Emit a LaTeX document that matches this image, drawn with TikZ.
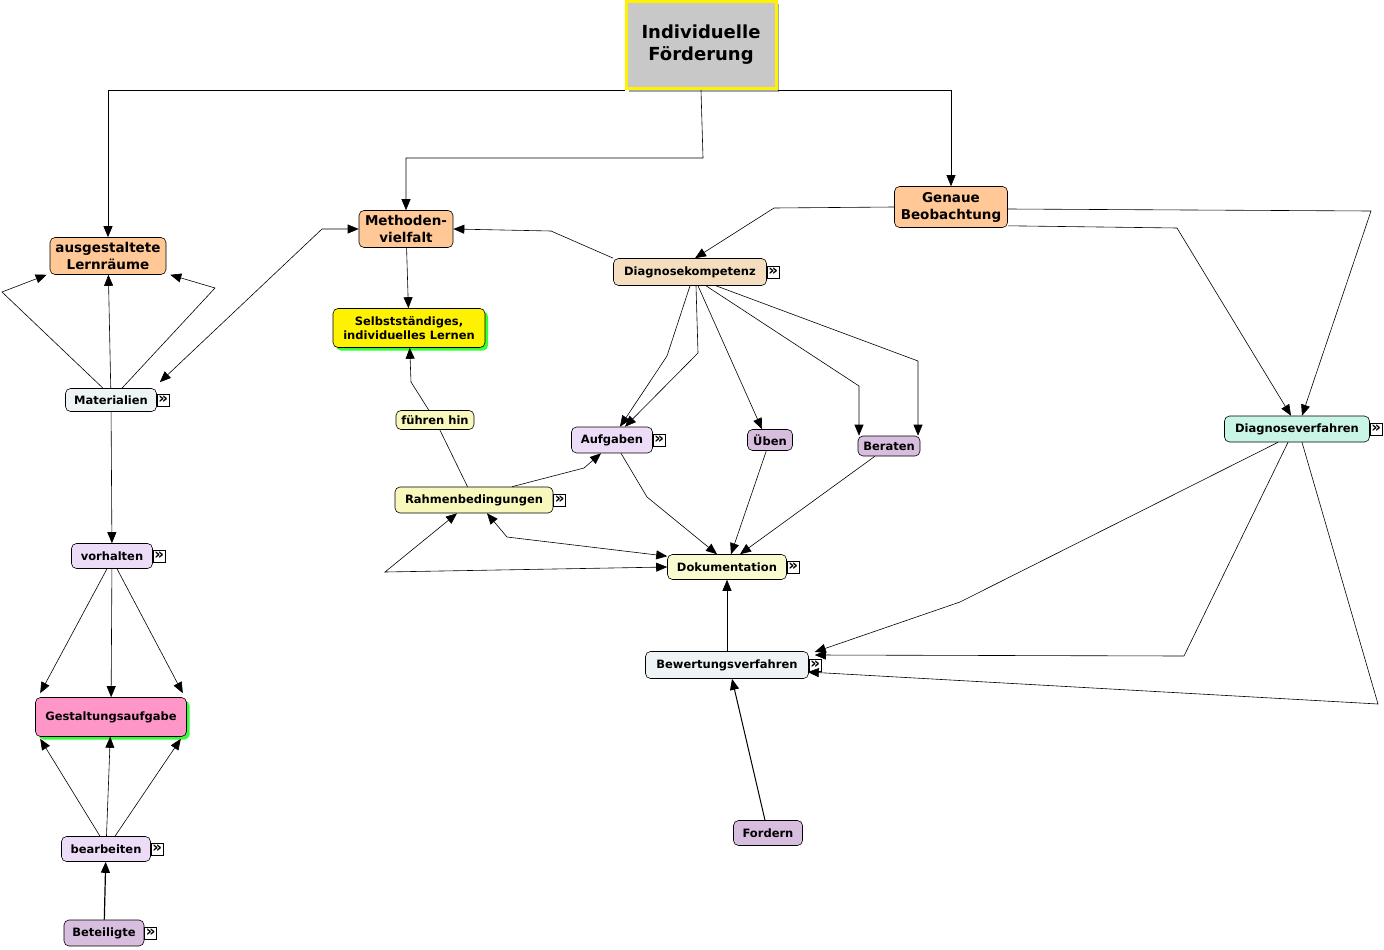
\documentclass[tikz,border=0pt]{standalone}
\usepackage{fontspec}
\setmainfont{DejaVu Sans}
\usetikzlibrary{arrows.meta,positioning,shadows}

\definecolor{peach}{RGB}{255,200,150}
\definecolor{topgray}{RGB}{200,200,200}
\definecolor{paleblue}{RGB}{238,244,246}
\definecolor{wheat}{RGB}{245,222,192}
\definecolor{paleyellow}{RGB}{248,248,188}
\definecolor{lavender}{RGB}{236,220,248}
\definecolor{mauve}{RGB}{216,190,222}
\definecolor{mint}{RGB}{200,245,230}
\definecolor{pinkish}{RGB}{255,150,200}
\definecolor{shadowgreen}{RGB}{51,255,51}

\tikzset{
  concept/.style={draw, rounded corners=5pt, align=center, inner sep=1pt,
    font=\bfseries\fontsize{11.5}{14}\selectfont},
  bigconcept/.style={concept, font=\bfseries\fontsize{13.5}{17}\selectfont},
  sz/.style 2 args={minimum width=#1pt, minimum height=#2pt},
  greenshadow/.style={drop shadow={shadow xshift=3pt, shadow yshift=-3pt,
    fill=shadowgreen, opacity=1}},
  moreicon/.style={draw, fill=white, inner sep=0pt, minimum size=12pt,
    font=\bfseries\fontsize{15}{15}\selectfont},
  arr/.style={-{Triangle[length=11pt,width=9pt]}},
  biarr/.style={{Triangle[length=11pt,width=9pt]}-{Triangle[length=11pt,width=9pt]}}
}

\begin{document}
\begin{tikzpicture}[x=1pt,y=-1pt,line width=0.6pt]
\useasboundingbox (0,0) rectangle (1384,950);

% main concept
\node[draw=yellow, line width=3pt, fill=topgray, align=center, sz={150}{87},
  drop shadow={shadow xshift=3pt, shadow yshift=-3pt, fill=gray!70, opacity=1},
  font=\bfseries\fontsize{18}{22}\selectfont] (top) at (701,45) {Individuelle\\Förderung};

% concepts
\node[bigconcept, fill=peach, sz={116}{37}] (lern) at (108,256) {ausgestaltete\\Lernräume};
\node[bigconcept, fill=peach, sz={94}{37}] (meth) at (406,229) {Methoden-\\vielfalt};
\node[bigconcept, fill=peach, sz={113}{41}] (gen) at (951,207) {Genaue\\Beobachtung};
\node[concept, fill=yellow, greenshadow, sz={152}{39}] (selb) at (409,328) {Selbstständiges,\\individuelles Lernen};
\node[concept, fill=paleblue, sz={91}{23}] (mat) at (111,400) {Materialien};
\node[concept, fill=wheat, sz={153}{27}] (diag) at (690,272) {Diagnosekompetenz};
\node[concept, fill=paleyellow, sz={78}{19}] (fuh) at (435,420) {führen hin};
\node[concept, fill=lavender, sz={81}{26}] (aufg) at (612,440) {Aufgaben};
\node[concept, fill=mauve, sz={45}{21}] (uben) at (770,440) {Üben};
\node[concept, fill=mauve, sz={62}{20}] (ber) at (889,446) {Beraten};
\node[concept, fill=mint, sz={145}{26}] (dv) at (1297,429) {Diagnoseverfahren};
\node[concept, fill=paleyellow, sz={158}{26}] (rahm) at (474,500) {Rahmenbedingungen};
\node[concept, fill=lavender, sz={81}{25}] (vor) at (112,556) {vorhalten};
\node[concept, fill=paleyellow!70!white, sz={119}{25}] (doku) at (727,567) {Dokumentation};
\node[concept, fill=paleblue, sz={163}{27}] (bew) at (727,665) {Bewertungsverfahren};
\node[concept, fill=pinkish, greenshadow, sz={151}{39}] (gest) at (111,717) {Gestaltungsaufgabe};
\node[concept, fill=lavender, sz={89}{25}] (bearb) at (106,849) {bearbeiten};
\node[concept, fill=mauve, sz={80}{26}] (bet) at (104,933) {Beteiligte};
\node[concept, fill=mauve, sz={69}{25}] (ford) at (768,833) {Fordern};

% link icons
\node[moreicon, right=0pt of mat] (mat-m) {»};
\node[moreicon, right=0pt of diag] (diag-m) {»};
\node[moreicon, right=0pt of aufg] (aufg-m) {»};
\node[moreicon, right=0pt of dv] (dv-m) {»};
\node[moreicon, right=0pt of rahm] (rahm-m) {»};
\node[moreicon, right=0pt of vor] (vor-m) {»};
\node[moreicon, right=0pt of doku] (doku-m) {»};
\node[moreicon, right=0pt of bew] (bew-m) {»};
\node[moreicon, right=0pt of bearb] (bearb-m) {»};
\node[moreicon, right=0pt of bet] (bet-m) {»};

% from the main concept
\draw[arr] (top.south west) -| (lern);
\draw[arr] (top.south) -- (703,158) -| (meth);
\draw[arr] (top.south east) -| (gen);

% Genaue Beobachtung
\draw[arr] (gen.west) -- (774,208) -- ([xshift=5pt]diag.north);
\draw[arr] ([yshift=-2pt]gen.east) -- (1371,211) -- ([xshift=5pt]dv.north);
\draw[arr] ([yshift=2pt]gen.south east) -- (1177,228) -- ([xshift=-6pt]dv.north);

% Methodenvielfalt
\draw[arr] (diag.north west) -- (551,231) -- (meth.east);
\draw[biarr] ([shift={(3pt,6pt)}]mat.north east) -- (322,229) -- (meth.west);
\draw[arr] (meth) -- (selb);
\draw (rahm) -- (fuh);
\draw[arr] (fuh) -- (411,382) -- (selb);

% Materialien
\draw[arr] ([xshift=-8pt]mat.north) -- (2,292) -- ([xshift=-3pt]lern.south west);
\draw[arr] (mat) -- (lern);
\draw[arr] ([xshift=11pt]mat.north) -- (215,288) -- ([xshift=4pt]lern.south east);
\draw[arr] (mat) -- (vor);

% vorhalten / bearbeiten
\draw[arr] ([xshift=-5pt]vor.south) -- ([shift={(5pt,4pt)}]gest.north west);
\draw[arr] (vor) -- (gest);
\draw[arr] ([xshift=5pt]vor.south) -- ([shift={(-4pt,4pt)}]gest.north east);
\draw[arr] ([xshift=-6pt]bearb.north) -- ([shift={(5pt,-2pt)}]gest.south west);
\draw[arr] (bearb) -- (gest);
\draw[arr] ([xshift=9pt]bearb.north) -- ([shift={(-6pt,-2pt)}]gest.south east);
\draw[arr, line width=1.2pt] (bet) -- (bearb);

% Diagnosekompetenz
\draw[arr] (diag.south) -- (667,356) -- ([xshift=8pt]aufg.north);
\draw[arr] ([xshift=6pt]diag.south) -- (698,353) -- ([xshift=13pt]aufg.north);
\draw[arr] ([xshift=8pt]diag.south) -- ([xshift=-8pt]uben.north);
\draw[arr] ([xshift=16pt]diag.south) -- (859,386) -- ([xshift=-30pt]ber.north);
\draw[arr] ([xshift=26pt]diag.south) -- (918,361) -- ([xshift=29pt]ber.north);

% Rahmenbedingungen
\draw[arr] ([xshift=38pt]rahm.north) -- (584,468) -- ([xshift=-11pt]aufg.south);
\draw[biarr] ([xshift=13pt]rahm.south) -- (507,537) -- ([yshift=-2pt]doku.north west);
\draw[biarr] ([xshift=-17pt]rahm.south) -- (385,572) -- (doku.west);

% Dokumentation
\draw[arr] ([xshift=9pt]aufg.south) -- (647,497) -- ([xshift=-10pt]doku.north);
\draw[arr] (uben) -- ([xshift=4pt]doku.north);
\draw[arr] (ber) -- ([xshift=13pt]doku.north);
\draw[arr] (bew) -- (doku);
\draw[arr, line width=1pt] ([xshift=-3pt]ford.north) -- ([xshift=5pt]bew.south);

% Diagnoseverfahren
\draw[arr] ([xshift=-19pt]dv.south) -- (960,602) -- ([shift={(6pt,13pt)}]bew.east);
\draw[arr] ([xshift=-9pt]dv.south) -- (1184,656) -- ([shift={(6pt,10pt)}]bew.east);
\draw[arr] ([xshift=5pt]dv.south) -- (1378,704) -- ([shift={(-1pt,-7pt)}]bew.east);
\end{tikzpicture}
\end{document}
